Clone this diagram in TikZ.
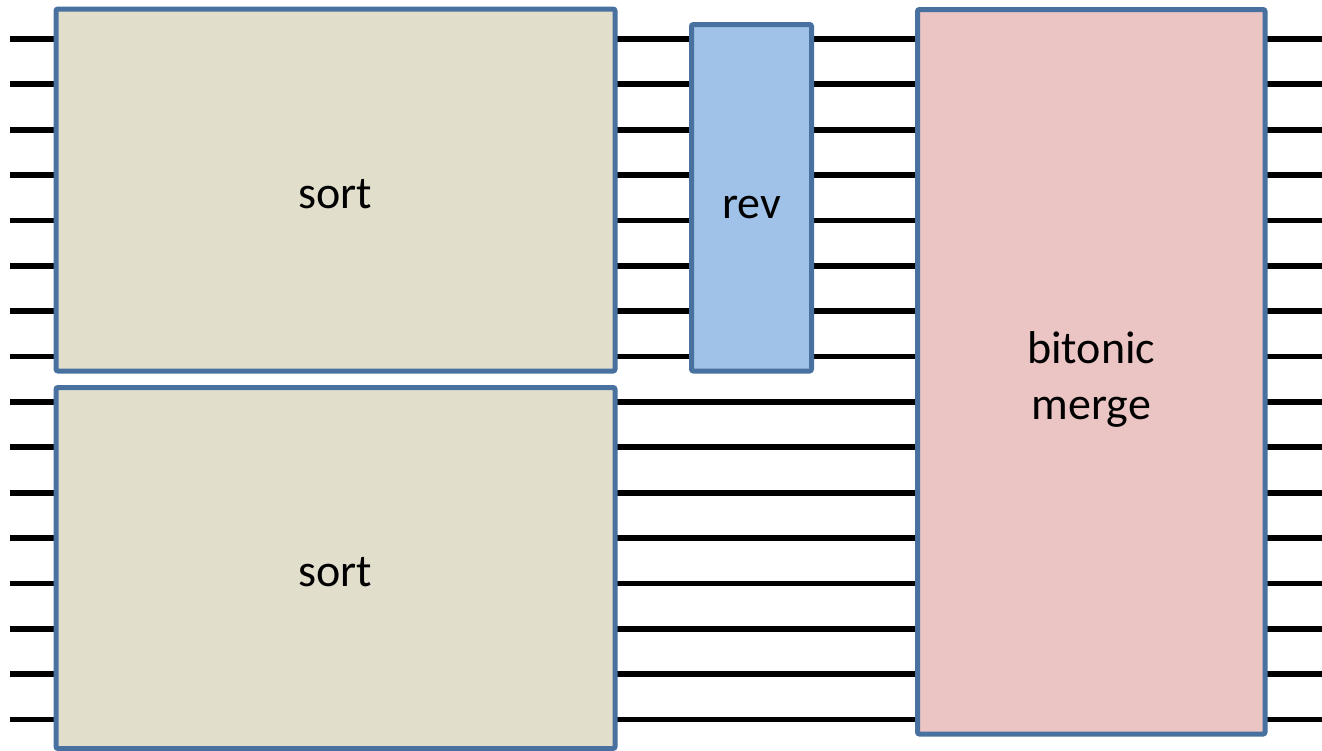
\documentclass[tikz,border=0pt]{standalone}
\usepackage{fontspec}
\setmainfont{Carlito}
\definecolor{edgeblue}{RGB}{72,113,160}
\definecolor{sortfill}{RGB}{225,222,204}
\definecolor{revfill}{RGB}{160,194,232}
\definecolor{mergefill}{RGB}{235,196,196}
\tikzset{
  wire/.style={line width=5.8pt, black},
  blockbox/.style={draw=edgeblue, line width=5pt, rounded corners=2pt, inner sep=0pt, outer sep=0pt},
  lbl/.style={anchor=base, inner sep=0pt, font=\fontsize{46}{56}\selectfont, align=center}
}
\begin{document}
\begin{tikzpicture}[x=1pt,y=-1pt]
\useasboundingbox (0,0) rectangle (1322,750);
% wires
\foreach \i in {0,...,15} {
  \coordinate (L\i) at (10,{39+\i*45.37});
  \coordinate (R\i) at (1322,{39+\i*45.37});
  \draw[wire] (L\i) -- (R\i);
}
% boxes
\node[blockbox, fill=sortfill, minimum width=559pt, minimum height=362pt] (sortA) at (335.5,190) {};
\node[blockbox, fill=sortfill, minimum width=559pt, minimum height=361pt] (sortB) at (335.5,568) {};
\node[blockbox, fill=revfill, minimum width=120pt, minimum height=346.5pt] (rev) at (751.5,197.75) {};
\node[blockbox, fill=mergefill, minimum width=347.5pt, minimum height=724.5pt] (merge) at (1091.25,371.75) {};
% labels
\node[lbl] (tA) at ([yshift=-18pt]sortA.center) {sort};
\node[lbl] (tB) at ([yshift=-18pt]sortB.center) {sort};
\node[lbl] (tR) at ([yshift=-21pt]rev.center) {rev};
\node[lbl, anchor=center] (tM) at ([yshift=-8pt]merge.center) {bitonic\\merge};
\end{tikzpicture}
\end{document}
